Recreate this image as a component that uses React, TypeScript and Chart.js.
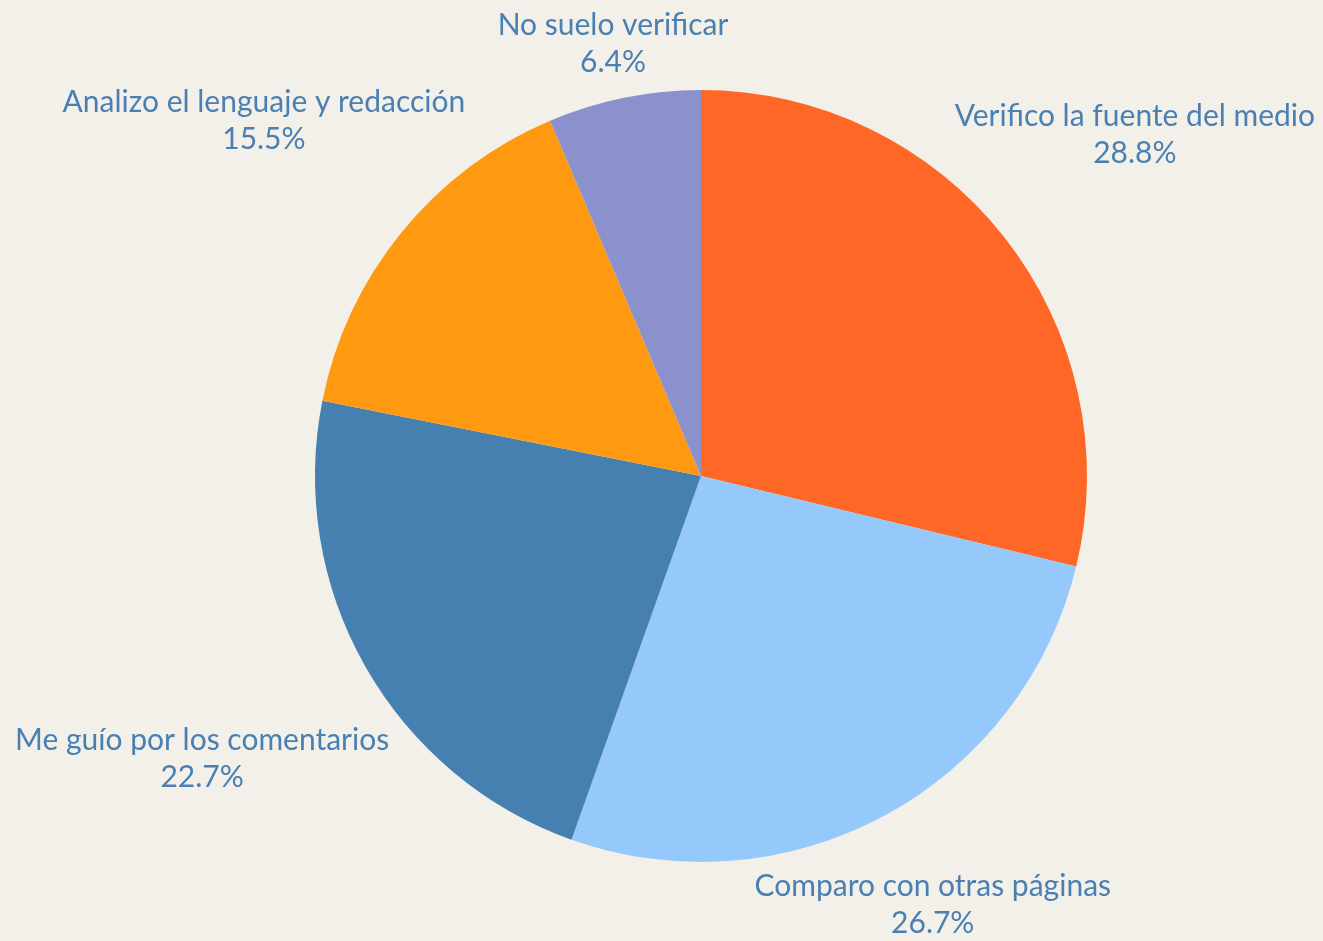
import React, { useEffect, useRef } from "react";
import { Chart, registerables } from "chart.js";

Chart.register(...registerables);

const categories = [
  "Verifico la fuente del medio",
  "Comparo con otras páginas",
  "Me guío por los comentarios",
  "Analizo el lenguaje y redacción",
  "No suelo verificar",
];
const values = [28.8, 26.7, 22.7, 15.5, 6.4];
const colors = ["#FF6726", "#96C9FB", "#4680B0", "#FF9A10", "#8A91CD"];

const BG = "#F3F0E9";
const TEXT = "#4A7FB2";
const FONT = "30px Lato, 'Open Sans', sans-serif";

const labelPlugin = {
  id: "outerLabels",
  afterDraw(chart: any) {
    const ctx = chart.ctx;
    const meta = chart.getDatasetMeta(0);
    ctx.save();
    ctx.font = FONT;
    ctx.fillStyle = TEXT;
    ctx.textAlign = "center";
    ctx.textBaseline = "middle";
    const lineH = 37;
    meta.data.forEach((arc: any, i: number) => {
      const mid = (arc.startAngle + arc.endAngle) / 2;
      const dx = Math.cos(mid);
      const dy = Math.sin(mid);
      const l1 = categories[i];
      const l2 = values[i].toFixed(1) + "%";
      const w = Math.max(ctx.measureText(l1).width, ctx.measureText(l2).width);
      const a = w / 2;
      const b = 31;
      const target = arc.outerRadius + 15;
      const dist = (t: number) => {
        const ex = Math.max(0, Math.abs(t * dx) - a);
        const ey = Math.max(0, Math.abs(t * dy) - b);
        return Math.sqrt(ex * ex + ey * ey);
      };
      let lo = 0;
      let hi = 2000;
      for (let k = 0; k < 60; k++) {
        const m = (lo + hi) / 2;
        if (dist(m) < target) lo = m;
        else hi = m;
      }
      const t = (lo + hi) / 2;
      const cx = arc.x + dx * t;
      const cy = arc.y + dy * t;
      ctx.fillText(l1, cx, cy - lineH / 2);
      ctx.fillText(l2, cx, cy + lineH / 2);
    });
    ctx.restore();
  },
};

export default function App() {
  const ref = useRef<HTMLCanvasElement | null>(null);
  useEffect(() => {
    document.body.style.margin = "0";
    document.body.style.background = BG;
    const chart = new Chart(ref.current as HTMLCanvasElement, {
      type: "pie",
      data: {
        labels: categories,
        datasets: [
          {
            data: values,
            backgroundColor: colors,
            borderWidth: 0,
          },
        ],
      },
      options: {
        animation: false,
        responsive: false,
        layout: { padding: { top: 90, bottom: 79, left: 120, right: 41 } },
        plugins: {
          legend: { display: false },
          tooltip: { enabled: false },
        },
      },
      plugins: [labelPlugin],
    });
    return () => chart.destroy();
  }, []);
  return (
    <div style={{ width: 1323, height: 941, background: BG }}>
      <canvas ref={ref} width={1323} height={941} style={{ display: "block" }} />
    </div>
  );
}
